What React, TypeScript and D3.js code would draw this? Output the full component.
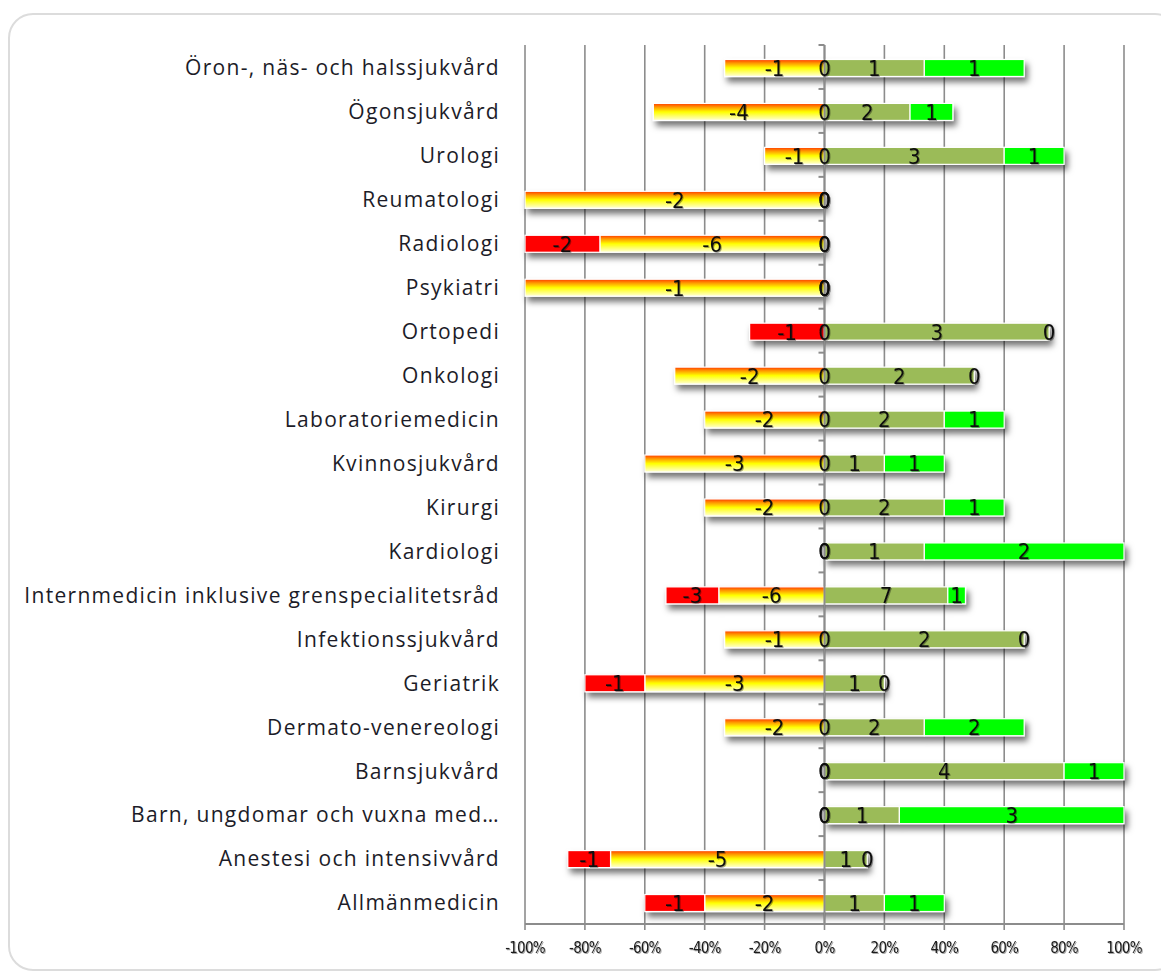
import React, { useEffect } from "react";
import * as d3 from "d3";

// categories top to bottom
const categories = [
  "Öron-, näs- och halssjukvård",
  "Ögonsjukvård",
  "Urologi",
  "Reumatologi",
  "Radiologi",
  "Psykiatri",
  "Ortopedi",
  "Onkologi",
  "Laboratoriemedicin",
  "Kvinnosjukvård",
  "Kirurgi",
  "Kardiologi",
  "Internmedicin inklusive grenspecialitetsråd",
  "Infektionssjukvård",
  "Geriatrik",
  "Dermato-venereologi",
  "Barnsjukvård",
  "Barn, ungdomar och vuxna med…",
  "Anestesi och intensivvård",
  "Allmänmedicin",
];

// counts per answer class
const negative = [1, 4, 1, 2, 6, 1, 0, 2, 2, 3, 2, 0, 6, 1, 3, 2, 0, 0, 5, 2];
const veryNegative = [0, 0, 0, 0, 2, 0, 1, 0, 0, 0, 0, 0, 3, 0, 1, 0, 0, 0, 1, 1];
const positive = [1, 2, 3, 0, 0, 0, 3, 2, 2, 1, 2, 1, 7, 2, 1, 2, 4, 1, 1, 1];
const veryPositive = [1, 1, 1, 0, 0, 0, 0, 0, 1, 1, 1, 2, 1, 0, 0, 2, 1, 3, 0, 1];

const ticks = [-1, -0.8, -0.6, -0.4, -0.2, 0, 0.2, 0.4, 0.6, 0.8, 1];

// stacking order as the spreadsheet does it (zero values land on the positive side)
const seriesDefs = [
  { key: "neg", data: negative, sign: -1, fill: "url(#orangeGrad)" },
  { key: "vneg", data: veryNegative, sign: -1, fill: "#ff0000" },
  { key: "pos", data: positive, sign: 1, fill: "#9bbb59" },
  { key: "vpos", data: veryPositive, sign: 1, fill: "#00ff00" },
];

export default function App() {
  useEffect(() => {
    document.body.style.margin = "0";
  }, []);

  const W = 1161;
  const H = 972;
  const x = d3.scaleLinear().domain([-1, 1]).range([525, 1124]);
  const y = d3.scaleBand<string>().domain(categories).range([45, 924]);
  const barH = 17;
  const yTop = 45;
  const yBottom = 924;

  const rows = categories.map((cat, i) => {
    const total = negative[i] + veryNegative[i] + positive[i] + veryPositive[i];
    let negOff = 0;
    let posOff = 0;
    const segs = seriesDefs.map((s) => {
      const count = s.data[i];
      const v = (s.sign * count) / total;
      let x0: number, x1: number;
      if (v < 0) {
        x0 = negOff + v;
        x1 = negOff;
        negOff += v;
      } else {
        x0 = posOff;
        x1 = posOff + v;
        posOff += v;
      }
      return { key: s.key, fill: s.fill, x0, x1, label: count === 0 ? "0" : String(s.sign * count) };
    });
    return { cat, segs };
  });

  const labelFont = "'Open Sans', 'Noto Sans', sans-serif";
  const numFont = "'Liberation Sans Narrow', 'DejaVu Sans Condensed', 'Liberation Sans', sans-serif";

  return (
    <svg width={W} height={H} style={{ position: "absolute", left: 0, top: 0, display: "block" }}>
      <defs>
        <linearGradient id="orangeGrad" x1="0" y1="0" x2="0" y2="1">
          <stop offset="0%" stopColor="#ff3a00" />
          <stop offset="22%" stopColor="#ff9a00" />
          <stop offset="50%" stopColor="#ffff00" />
          <stop offset="100%" stopColor="#ffffd8" />
        </linearGradient>
        <filter id="barShadow" x="-10%" y="-50%" width="130%" height="260%">
          <feDropShadow dx="3" dy="5" stdDeviation="3" floodColor="#000" floodOpacity="0.55" />
        </filter>
        <filter id="txtShadow" x="-20%" y="-20%" width="150%" height="150%">
          <feDropShadow dx="1" dy="1" stdDeviation="0.7" floodColor="#000" floodOpacity="0.35" />
        </filter>
      </defs>

      <rect x={9} y={14} width={1170} height={956} rx={24} fill="#fff" stroke="#dcdcdc" strokeWidth={2} />

      {/* vertical gridlines */}
      {ticks.map((t) => (
        <line key={"g" + t} x1={x(t)} x2={x(t)} y1={yTop} y2={yBottom + 6} stroke="#8c8c8c" strokeWidth={1.6} />
      ))}
      {/* x axis */}
      <line x1={x(-1)} x2={x(1)} y1={yBottom} y2={yBottom} stroke="#8c8c8c" strokeWidth={2} />
      {ticks.map((t) => (
        <text
          key={"t" + t}
          x={x(t)}
          y={953}
          textAnchor="middle"
          fontFamily={numFont}
          fontSize={15}
          letterSpacing={-0.8}
          fill="#1a1a1a"
          filter="url(#txtShadow)"
        >
          {`${Math.round(t * 100)}%`}
        </text>
      ))}

      {/* bars */}
      {rows.map((r) => {
        const cy = (y(r.cat) as number) + y.bandwidth() / 2 + 1;
        return (
          <g key={r.cat} filter="url(#barShadow)">
            {r.segs
              .filter((s) => s.x1 - s.x0 > 0)
              .map((s) => (
                <rect
                  key={s.key}
                  x={x(s.x0)}
                  y={cy - barH / 2}
                  width={x(s.x1) - x(s.x0)}
                  height={barH}
                  fill={s.fill}
                  stroke="#fff"
                  strokeWidth={1.2}
                />
              ))}
          </g>
        );
      })}

      {/* y axis with ticks between categories */}
      <line x1={x(0)} x2={x(0)} y1={yTop} y2={yBottom} stroke="#8c8c8c" strokeWidth={2} />
      {categories.map((c) => (
        <line
          key={"yt" + c}
          x1={x(0) - 6}
          x2={x(0)}
          y1={y(c) as number}
          y2={y(c) as number}
          stroke="#8c8c8c"
          strokeWidth={2}
        />
      ))}

      {/* data labels */}
      {rows.map((r) => {
        const cy = (y(r.cat) as number) + y.bandwidth() / 2 + 1;
        return (
          <g key={"l" + r.cat} filter="url(#txtShadow)">
            {r.segs.map((s) => (
              <text
                key={s.key}
                x={x((s.x0 + s.x1) / 2)}
                y={cy}
                dy="0.36em"
                textAnchor="middle"
                fontFamily={numFont}
                fontSize={22}
                fill="#111"
              >
                {s.label}
              </text>
            ))}
          </g>
        );
      })}

      {/* category labels */}
      {categories.map((c) => (
        <text
          key={"c" + c}
          x={500}
          y={(y(c) as number) + y.bandwidth() / 2 + 1}
          dy="0.35em"
          textAnchor="end"
          fontFamily={labelFont}
          fontSize={21}
          letterSpacing={1.3}
          fill="#1c1c28"
        >
          {c}
        </text>
      ))}
    </svg>
  );
}
